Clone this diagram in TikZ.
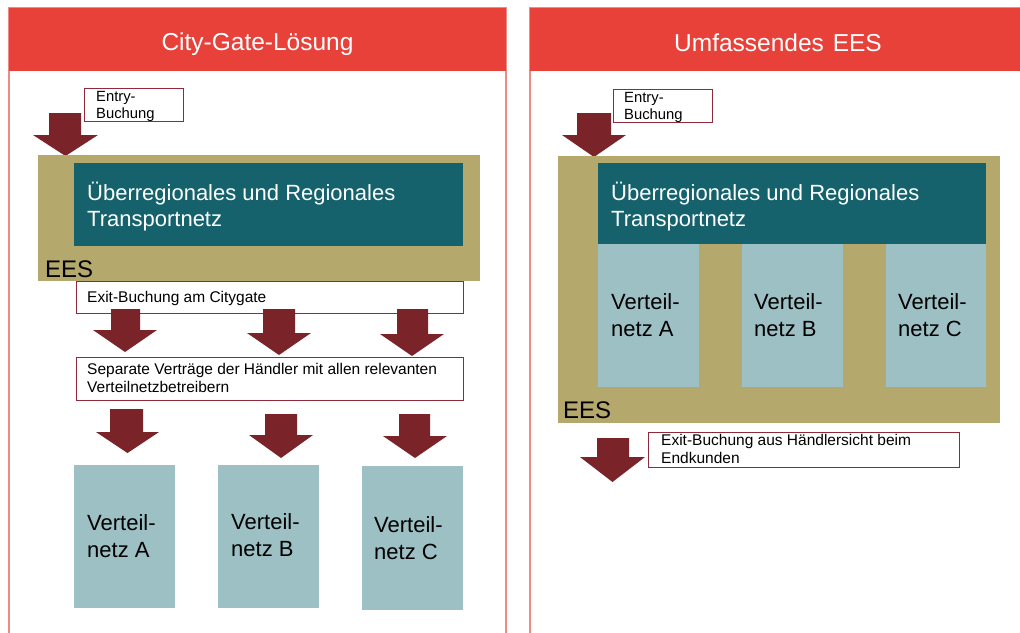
\documentclass[tikz,border=0pt]{standalone}
\usepackage{fontspec}
\setmainfont{Liberation Sans}
\definecolor{hdr}{HTML}{E8413A}
\definecolor{pborder}{HTML}{F08A86}
\definecolor{arr}{HTML}{7A2328}
\definecolor{bframe}{HTML}{8E2A3C}
\definecolor{khaki}{HTML}{B4A86C}
\definecolor{teal}{HTML}{15626C}
\definecolor{lteal}{HTML}{9CC0C4}
\newcommand\blockarr[7]{\fill[arr] (#1,#3) -- (#2,#3) -- (#2,#6) -- (#5,#6) -- ({(#4+#5)/2},#7) -- (#4,#6) -- (#1,#6) -- cycle;}
\begin{document}
\begin{tikzpicture}[x=1pt,y=-1pt,
  box/.style={anchor=north west,inner sep=0pt,outer sep=0pt},
  labelbox/.style={box,draw=bframe,line width=1pt,fill=white},
  small/.style={anchor=base west,inner sep=0pt,align=left,font=\fontsize{15.5}{18}\selectfont},
  entry/.style={anchor=base west,inner sep=0pt,align=left,font=\fontsize{14.8}{16.5}\selectfont},
  big/.style={anchor=base west,inner sep=0pt,align=left,font=\fontsize{22}{26}\selectfont},
  vtext/.style={anchor=base west,inner sep=0pt,align=left,font=\fontsize{22}{26.5}\selectfont},
  eestext/.style={anchor=base west,inner sep=0pt,font=\fontsize{24}{28}\selectfont},
  head/.style={anchor=base,inner sep=0pt,text=white,font=\fontsize{24.5}{30}\selectfont}]
\useasboundingbox (0,0) rectangle (1020,632);
\clip (0,0) rectangle (1020,632);
% panels
\draw[pborder,line width=1.5pt,fill=white] (9,8) rectangle (506,645);
\fill[hdr] (9,8) rectangle (506,71);
\draw[pborder,line width=1.5pt,fill=white] (530,8) rectangle (1030,645);
\fill[hdr] (530,8) rectangle (1030,71);
\node[head] (h1) at (257.5,50.5) {City-Gate-Lösung};
\node[head] (h2) at (778,51) {Umfassendes\hspace{2pt} EES};

% ---------- left panel ----------
\blockarr{49}{81}{113}{33}{98}{135}{156}
\node[labelbox,minimum width=99pt,minimum height=33pt] (entryL) at (84,88) {};
\node[entry] (entryLt) at (96,118) {Entry-\\Buchung};
\node[box,fill=khaki,minimum width=442pt,minimum height=126pt] (eesL) at (38,155) {};
\node[box,fill=teal,minimum width=389pt,minimum height=83pt] (tnL) at (74,163) {};
\node[big,text=white] (tnLt) at (87,226) {Überregionales und Regionales\\Transportnetz};
\node[eestext] (eesLt) at (45,277) {EES};
\node[labelbox,minimum width=387pt,minimum height=32pt] (exitL) at (76,281) {};
\node[small] (exitLt) at (87,302) {Exit-Buchung am Citygate};
\blockarr{111}{140}{309}{93}{157}{330}{352}
\blockarr{263}{295}{309}{247}{311}{333}{355}
\blockarr{397}{428}{309}{380}{444}{334}{356}
\node[labelbox,minimum width=387pt,minimum height=43pt] (sepL) at (76,357) {};
\node[small] (sepLt) at (87,392) {Separate Verträge der Händler mit allen relevanten\\Verteilnetzbetreibern};
\blockarr{110}{143}{409}{96}{159}{432}{453}
\blockarr{265}{297}{414}{249}{313}{435}{458}
\blockarr{399}{430}{414}{383}{447}{436}{458}
\node[box,fill=lteal,minimum width=101pt,minimum height=143pt] (vaL) at (74,465) {};
\node[box,fill=lteal,minimum width=101pt,minimum height=143pt] (vbL) at (218,465) {};
\node[box,fill=lteal,minimum width=101pt,minimum height=144pt] (vcL) at (362,466) {};
\node[vtext] (vaLt) at (87,557) {Verteil-\\netz A};
\node[vtext] (vbLt) at (231,556) {Verteil-\\netz B};
\node[vtext] (vcLt) at (374,559) {Verteil-\\netz C};

% ---------- right panel ----------
\blockarr{577}{611}{113}{562}{626}{135}{157}
\node[labelbox,minimum width=99pt,minimum height=33pt] (entryR) at (613,89) {};
\node[entry] (entryRt) at (624,119) {Entry-\\Buchung};
\node[box,fill=khaki,minimum width=442pt,minimum height=267pt] (eesR) at (558,156) {};
\node[box,fill=teal,minimum width=388pt,minimum height=81pt] (tnR) at (598,163) {};
\node[big,text=white] (tnRt) at (611,226) {Überregionales und Regionales\\Transportnetz};
\node[box,fill=lteal,minimum width=101pt,minimum height=143pt] (vaR) at (598,244) {};
\node[box,fill=lteal,minimum width=101pt,minimum height=143pt] (vbR) at (742,244) {};
\node[box,fill=lteal,minimum width=100pt,minimum height=143pt] (vcR) at (886,244) {};
\node[vtext] (vaRt) at (611,336) {Verteil-\\netz A};
\node[vtext] (vbRt) at (754,336) {Verteil-\\netz B};
\node[vtext] (vcRt) at (898,336) {Verteil-\\netz C};
\node[eestext] (eesRt) at (563,418) {EES};
\blockarr{597}{629}{438}{580}{645}{457}{482}
\node[labelbox,minimum width=311pt,minimum height=35pt] (exitR) at (648,432) {};
\node[small] (exitRt) at (661,463) {Exit-Buchung aus Händlersicht beim\\Endkunden};
\end{tikzpicture}
\end{document}
